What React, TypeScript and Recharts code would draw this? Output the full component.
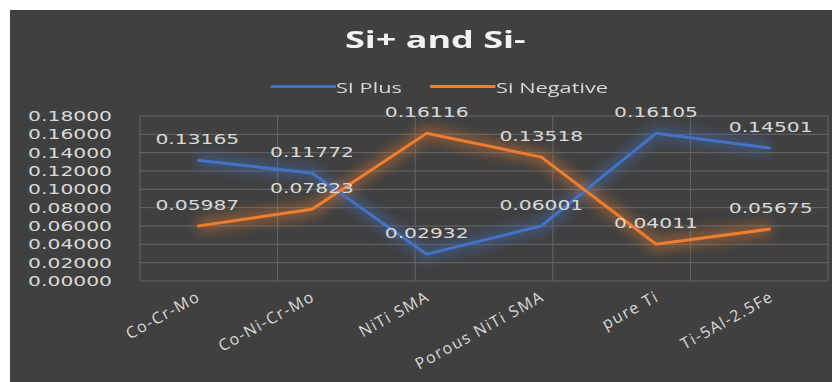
import React from "react";
import {
  LineChart,
  Line,
  XAxis,
  YAxis,
  CartesianGrid,
  Legend,
  LabelList,
} from "recharts";

const categories = ["Co-Cr-Mo", "Co-Ni-Cr-Mo", "NiTi SMA", "Porous NiTi SMA", "pure Ti", "Ti-5Al-2.5Fe"];
const siPlus = [0.13165, 0.11772, 0.02932, 0.06001, 0.16105, 0.14501];
const siNegative = [0.05987, 0.07823, 0.16116, 0.13518, 0.04011, 0.05675];
const yTicks = [0, 0.02, 0.04, 0.06, 0.08, 0.1, 0.12, 0.14, 0.16, 0.18];
const gridTicks = [0, 1, 2, 3, 4, 5, 6];

const BLUE = "#4472c4";
const ORANGE = "#ed7d31";
const TEXT = "#d9d9d9";
const GRID = "#666666";
const NUM_FONT = "'DejaVu Sans', sans-serif";
const STRETCH = 1.45;

const data = categories.map((name, i) => ({
  name,
  plus: siPlus[i],
  negative: siNegative[i],
}));

const YTick = ({ x, y, payload }: any) => (
  <g transform={`translate(${x},${y}) scale(${STRETCH},1)`}>
    <text textAnchor="end" dy="0.36em" fill={TEXT} fontSize={14} fontFamily={NUM_FONT}>
      {Number(payload.value).toFixed(5)}
    </text>
  </g>
);

const XTick = ({ x, y, payload }: any) => (
  <g transform={`translate(${x + 4},${y - 3}) rotate(-29)`}>
    <text textAnchor="end" fill={TEXT} fontSize={16} letterSpacing={1.4}>
      {payload.value}
    </text>
  </g>
);

const ValueLabel = ({ x, y, value }: any) => (
  <g transform={`translate(${x},${y - 16}) scale(${STRETCH},1)`}>
    <text textAnchor="middle" fill={TEXT} fontSize={14} fontFamily={NUM_FONT}>
      {Number(value).toFixed(5)}
    </text>
  </g>
);

const Header = () => (
  <div style={{ height: 96, width: 830, position: "relative" }}>
    <div style={{ position: "absolute", top: 13, left: 20, right: 0, textAlign: "center" }}>
      <span
        style={{
          display: "inline-block",
          transform: "scaleX(1.5)",
          color: "#f2f2f2",
          fontWeight: 700,
          fontSize: 24,
          lineHeight: "32px",
        }}
      >
        Si+ and Si-
      </span>
    </div>
    <div style={{ position: "absolute", top: 61, left: 28, right: 0, textAlign: "center" }}>
      <div
        style={{
          display: "inline-flex",
          alignItems: "center",
          transform: "scaleX(1.45)",
          color: TEXT,
          fontSize: 15,
          lineHeight: "22px",
        }}
      >
        <span style={{ width: 45, height: 3, background: BLUE, display: "inline-block" }} />
        <span style={{ marginRight: 20 }}>SI Plus</span>
        <span style={{ width: 45, height: 3, background: ORANGE, display: "inline-block" }} />
        <span>Si Negative</span>
      </div>
    </div>
  </div>
);

export default function App() {
  return (
    <div
      style={{
        margin: "2px 0 0 2px",
        width: 830,
        height: 372,
        background: "#404040",
        fontFamily: "'Open Sans', sans-serif",
      }}
    >
      <LineChart
        width={830}
        height={372}
        data={data}
        margin={{ top: 10, right: 12, left: 0, bottom: 0 }}
      >
        <defs>
          <filter id="glow" filterUnits="userSpaceOnUse" x="0" y="0" width="830" height="372">
            <feGaussianBlur stdDeviation="6" />
          </filter>
        </defs>
        <Legend
          verticalAlign="top"
          content={() => <Header />}
          wrapperStyle={{ top: 0, left: 0, width: 830 }}
        />
        {/* horizontal lines from the y ticks, vertical ones at category boundaries */}
        <CartesianGrid stroke={GRID} strokeWidth={1} vertical={false} />
        <CartesianGrid stroke={GRID} xAxisId="grid" horizontal={false} />
        <XAxis xAxisId="grid" type="number" domain={[0, 6]} ticks={gridTicks} hide />
        <XAxis
          dataKey="name"
          scale="band"
          axisLine={false}
          tickLine={false}
          tickSize={0}
          tickMargin={22}
          height={101}
          interval={0}
          tick={<XTick />}
        />
        <YAxis
          domain={[0, 0.18]}
          ticks={yTicks}
          interval={0}
          width={130}
          axisLine={false}
          tickLine={false}
          tickSize={0}
          tickMargin={28}
          tick={<YTick />}
        />
        <Line
          dataKey="plus"
          stroke={BLUE}
          strokeWidth={14}
          strokeOpacity={0.4}
          filter="url(#glow)"
          dot={false}
          activeDot={false}
          legendType="none"
          isAnimationActive={false}
        />
        <Line
          dataKey="negative"
          stroke={ORANGE}
          strokeWidth={14}
          strokeOpacity={0.4}
          filter="url(#glow)"
          dot={false}
          activeDot={false}
          legendType="none"
          isAnimationActive={false}
        />
        <Line dataKey="plus" name="SI Plus" stroke={BLUE} strokeWidth={3} dot={false} isAnimationActive={false}>
          <LabelList dataKey="plus" content={<ValueLabel />} />
        </Line>
        <Line dataKey="negative" name="Si Negative" stroke={ORANGE} strokeWidth={3} dot={false} isAnimationActive={false}>
          <LabelList dataKey="negative" content={<ValueLabel />} />
        </Line>
      </LineChart>
    </div>
  );
}
